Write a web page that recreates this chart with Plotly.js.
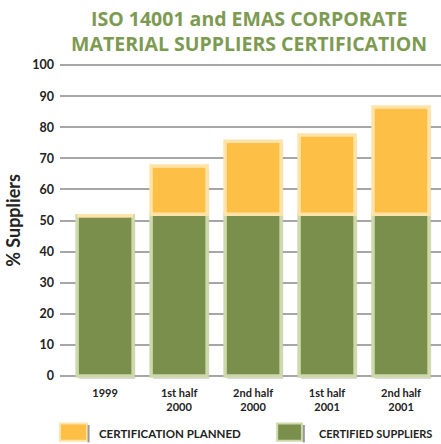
<!DOCTYPE html>
<html><head><meta charset="utf-8">
<script src="https://cdn.plot.ly/plotly-3.0.1.min.js"></script>
<style>html,body{margin:0;padding:0;background:#fff;}#chart{width:441px;height:444px;}</style>
</head><body><div id="chart"></div>
<script>
var categories = ["1999", "1st half<br>2000", "2nd half<br>2000", "1st half<br>2001", "2nd half<br>2001"];
var certified = [51.5, 52, 52, 52, 52];
var planned = [0, 15.5, 23.5, 25.5, 34.5];
var seriesNames = ["CERTIFICATION PLANNED", "CERTIFIED SUPPLIERS"];
var yTicks = [0, 10, 20, 30, 40, 50, 60, 70, 80, 90, 100];
var titleLines = ["ISO 14001 and EMAS CORPORATE", "MATERIAL SUPPLIERS CERTIFICATION"];

var green = "#7a8f4b", greenEdge = "#cdd8ab";
var orange = "#fdbf45", orangeEdge = "#ffe3a8";
var totals = certified.map(function(v, i){ return v + planned[i]; });
var xs = categories.map(function(c, i){ return i; });

var traces = [
  {type:"bar", x:xs, y:totals, base:-1.0, offset:-0.35, width:0.757,
   marker:{color:"rgba(150,150,150,0.35)", line:{width:0}}, hoverinfo:"skip", showlegend:false},
  {type:"bar", name:seriesNames[1], x:xs, y:certified, width:0.757,
   marker:{color:green, line:{color:greenEdge, width:3.5}}, showlegend:false},
  {type:"bar", name:seriesNames[0], x:xs, y:planned, base:certified, width:0.757,
   marker:{color:orange, line:{color:orangeEdge, width:3.5}}, showlegend:false}
];

var fontFam = "Lato, 'Open Sans', sans-serif";
var layout = {
  width:441, height:444,
  margin:{l:60, r:0, t:62, b:65},
  paper_bgcolor:"#fff", plot_bgcolor:"#fff",
  barmode:"overlay",
  showlegend:false,
  title:{text:"<b>"+titleLines[0]+"<br>"+titleLines[1]+"</b>",
    font:{family:"'Open Sans', Lato, sans-serif", size:19.5, color:"#7d9a52"},
    x:0.565, xanchor:"center", y:0.942, yanchor:"middle"},
  xaxis:{range:[-0.61, 4.54], tickmode:"array", tickvals:xs, ticktext:categories.map(function(c){return "<b>"+c+"</b>";}),
    showgrid:false, zeroline:false, showline:false, ticks:"", ticklabelstandoff:6,
    tickfont:{family:fontFam, size:11, color:"#222"}, fixedrange:true},
  yaxis:{range:[-1, 101], tickmode:"array", tickvals:yTicks, ticktext:yTicks.map(function(v){return "<b>"+v+"</b>";}),
    showgrid:true, gridcolor:"#a6a6a6", gridwidth:2, zeroline:false, showline:false, ticks:"", ticklen:0,
    ticklabelstandoff:5,
    tickfont:{family:fontFam, size:12.5, color:"#222"},
    title:{text:"<b>% Suppliers</b>", font:{family:fontFam, size:18, color:"#222"}, standoff:6}, fixedrange:true},
  shapes:[
    {type:"rect", xref:"paper", yref:"paper", x0:0.0, x1:0.071, y0:-0.14, y1:-0.195, fillcolor:orange, line:{color:orangeEdge, width:2}},
    {type:"rect", xref:"paper", yref:"paper", x0:0.57, x1:0.635, y0:-0.14, y1:-0.195, fillcolor:green, line:{color:greenEdge, width:2}},
    {type:"line", xref:"paper", yref:"paper", x0:0.075, x1:0.075, y0:-0.145, y1:-0.2, line:{color:"#999", width:2}},
    {type:"line", xref:"paper", yref:"paper", x0:0.64, x1:0.64, y0:-0.145, y1:-0.2, line:{color:"#999", width:2}}
  ],
  annotations:[
    {xref:"paper", yref:"paper", x:0.097, y:-0.172, xanchor:"left", yanchor:"middle", showarrow:false,
     text:"<b>"+seriesNames[0]+"</b>", font:{family:fontFam, size:11.5, color:"#222"}},
    {xref:"paper", yref:"paper", x:0.675, y:-0.172, xanchor:"left", yanchor:"middle", showarrow:false,
     text:"<b>"+seriesNames[1]+"</b>", font:{family:fontFam, size:11, color:"#222"}}
  ]
};
Plotly.newPlot("chart", traces, layout, {displayModeBar:false, staticPlot:true});
</script></body></html>
